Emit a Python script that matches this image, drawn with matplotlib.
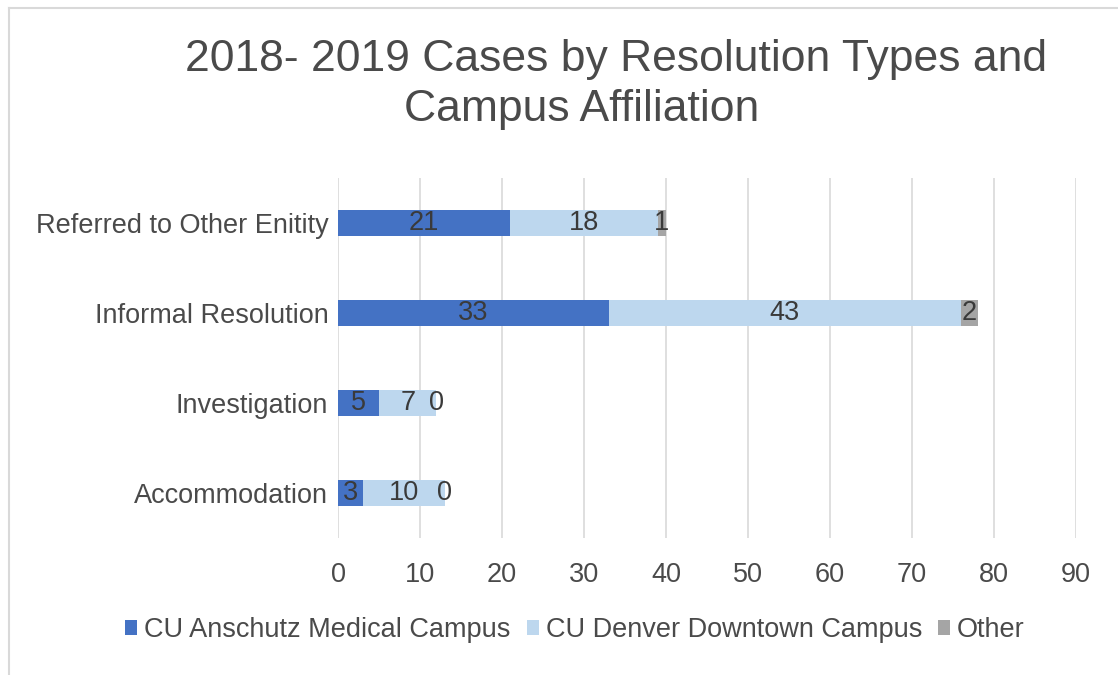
import matplotlib
matplotlib.use("Agg")
import matplotlib.pyplot as plt
import numpy as np
from matplotlib.lines import Line2D
from matplotlib.patches import Patch

plt.rcParams['font.family'] = ['Liberation Sans', 'DejaVu Sans']

categories = ["Accommodation", "Investigation", "Informal Resolution", "Referred to Other Enitity"]
anschutz = [3, 5, 33, 21]
denver = [10, 7, 43, 18]
other = [0, 0, 2, 1]
series_names = ["CU Anschutz Medical Campus", "CU Denver Downtown Campus", "Other"]
colors = ["#4472C4", "#BDD7EE", "#A5A5A5"]
xticks = list(range(0, 100, 10))
title_lines = ["2018- 2019 Cases by Resolution Types and", "Campus Affiliation"]

fig = plt.figure(figsize=(11.18, 6.75), dpi=100)
ax = fig.add_axes([338/1118, 1 - 538/675, (1076-338)/1118, 360/675])

y = np.arange(len(categories))
h = 0.29
left = np.zeros(len(categories))
text_color = "#4a4a4a"
fs = 19.5
for vals, name, c in zip([anschutz, denver, other], series_names, colors):
    bars = ax.barh(y, vals, height=h, left=left, color=c, label=name, zorder=3)
    ax.bar_label(bars, labels=[str(v) for v in vals], label_type='center',
                 fontsize=fs, color="#3a3a3a", zorder=4)
    left = left + np.array(vals)

ax.set_xlim(0, 90)
ax.set_ylim(-0.5, 3.5)
ax.set_xticks(xticks)
ax.set_yticks(y)
ax.set_yticklabels(categories)
ax.grid(axis='x', color='#D9D9D9', linewidth=1.2, zorder=0)
for s in ax.spines.values():
    s.set_visible(False)
ax.tick_params(axis='both', length=0, labelsize=fs, labelcolor=text_color)
ax.tick_params(axis='x', pad=17)
ax.tick_params(axis='y', pad=7)

fig.text(616/1118, 1 - 60/675, title_lines[0],
         ha='center', va='center', fontsize=32, color=text_color)
fig.text(582/1118, 1 - 110/675, title_lines[1],
         ha='center', va='center', fontsize=32, color=text_color)

handles = [Patch(facecolor=c, edgecolor='none') for c in colors]
fig.legend(handles, series_names, loc='center', bbox_to_anchor=(575/1118, 1 - 630/675),
           ncol=3, frameon=False, fontsize=fs, handlelength=0.45, handleheight=0.45,
           handletextpad=0.25, columnspacing=0.6, labelcolor=text_color)

# chart frame
fig.add_artist(Line2D([9/1118, 9/1118], [0, 1 - 8/675], color='#D9D9D9', lw=1.5, transform=fig.transFigure))
fig.add_artist(Line2D([9/1118, 1], [1 - 8/675, 1 - 8/675], color='#D9D9D9', lw=1.5, transform=fig.transFigure))

fig.savefig("out.png", dpi=100)
